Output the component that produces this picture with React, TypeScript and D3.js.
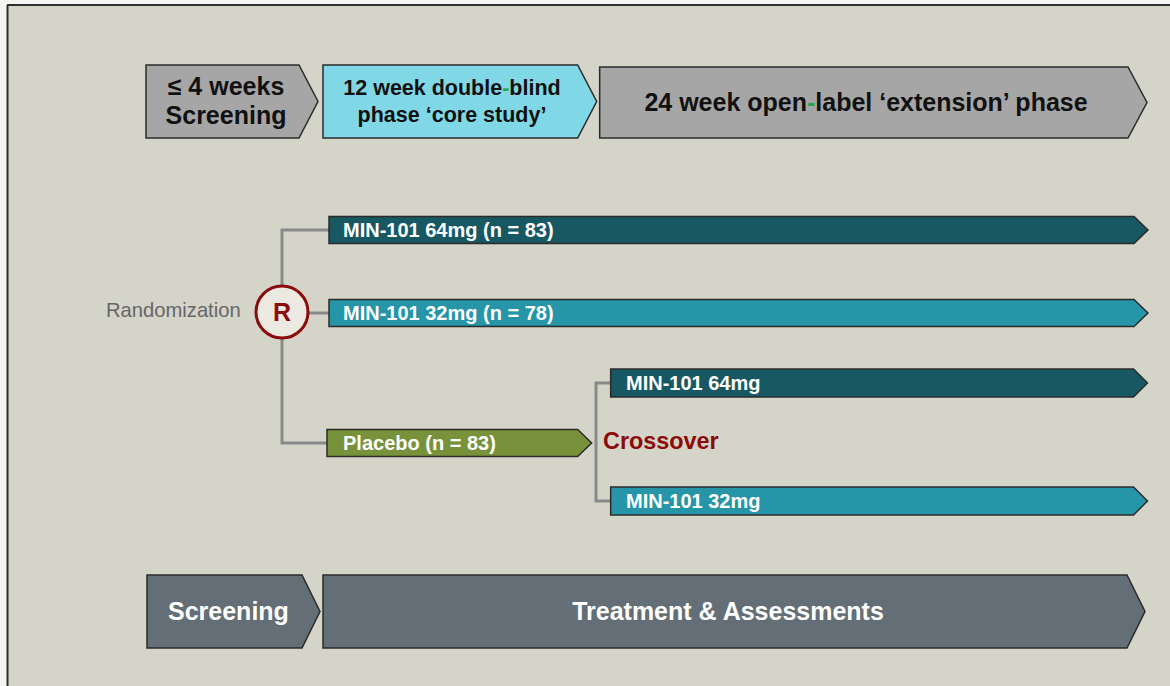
import React from "react";
import * as d3 from "d3";

// ---------- data ----------
const topPhaseLabels: string[][] = [
  ["≤ 4 weeks", "Screening"],
  ["12 week double-blind", "phase ‘core study’"],
  ["24 week open-label ‘extension’ phase"],
];
const topPhaseWeeks: [number, number][] = [
  [-4, 0],
  [0, 12],
  [12, 36],
];
const armLabels = ["MIN-101 64mg (n = 83)", "MIN-101 32mg (n = 78)", "Placebo (n = 83)"];
const armWeeks: [number, number][] = [
  [0, 36],
  [0, 36],
  [0, 12],
];
const crossoverLabels = ["MIN-101 64mg", "MIN-101 32mg"];
const crossoverWeeks: [number, number][] = [
  [12, 36],
  [12, 36],
];
const bottomLabels = ["Screening", "Treatment & Assessments"];
const bottomWeeks: [number, number][] = [
  [-4, 0],
  [0, 36],
];

// ---------- styles ----------
const FONT = "'Liberation Sans', Arial, Helvetica, sans-serif";
const BG = "#d5d4c8";
const topFills = ["#a6a6a6", "#80d7e5", "#a6a6a6"];
const armFills = ["#175862", "#2595a7", "#77923b"];
const crossFills = ["#175862", "#2595a7"];
const bottomFill = "#636e76";
const EDGE = "#2b2b2b";
const CONNECT = "#8a8a8a";
const DARKRED = "#8b0b0b";
const HYPHEN = "#22a84a";

const x = d3.scaleLinear().domain([-4, 0, 36]).range([146, 323, 1147]);

function chevron(x0: number, x1: number, y0: number, y1: number, tip: number) {
  const p = d3.path();
  const ym = (y0 + y1) / 2;
  p.moveTo(x0, y0);
  p.lineTo(x1 - tip, y0);
  p.lineTo(x1, ym);
  p.lineTo(x1 - tip, y1);
  p.lineTo(x0, y1);
  p.closePath();
  return p.toString();
}

function HyphenText({ text, ...rest }: any) {
  const i = text.indexOf("-");
  if (i < 0) return <text {...rest}>{text}</text>;
  return (
    <text {...rest}>
      <tspan>{text.slice(0, i)}</tspan>
      <tspan fill={HYPHEN}>-</tspan>
      <tspan>{text.slice(i + 1)}</tspan>
    </text>
  );
}

export default function App() {
  const topY0 = 65,
    topY1 = 138;
  const topPad = [
    [0, 5],
    [0, 1],
    [2, 0],
  ];
  const armCY = [230, 313, 443];
  const armH = 27;
  const crossCY = [383, 501];
  const crossH = 28;
  const botY0 = 575,
    botY1 = 648;

  const circle = { cx: 282, cy: 312, r: 26 };
  const bracketX = 596;

  return (
    <svg
      width={1170}
      height={686}
      style={{ position: "absolute", left: 0, top: 0, display: "block" }}
      fontFamily={FONT}
    >
      <rect x={0} y={0} width={1170} height={686} fill="#f4f4f2" />
      <rect x={8} y={6} width={1170} height={690} fill={BG} />
      <line x1={7} x2={1170} y1={5} y2={5} stroke="#2e2e2e" strokeWidth={2} />
      <line x1={7.5} x2={7.5} y1={5} y2={686} stroke="#2e2e2e" strokeWidth={2} />

      {/* top phase row */}
      {topPhaseWeeks.map((w, i) => {
        const x0 = x(w[0]) + topPad[i][0];
        const x1 = x(w[1]) - topPad[i][1];
        const lines = topPhaseLabels[i];
        const cx = i === 0 ? 226 : i === 1 ? 452 : 866;
        const fs = i === 1 ? 21.5 : 25;
        return (
          <g key={"top" + i}>
            <path d={chevron(x0, x1, i === 2 ? 67 : topY0, topY1, 19)} fill={topFills[i]} stroke={EDGE} strokeWidth={1.5} />
            {lines.map((t, j) => {
              const y = lines.length === 1 ? (topY0 + topY1) / 2 + 9 : 95 + j * (i === 0 ? 29 : 27);
              return (
                <HyphenText
                  key={j}
                  text={t}
                  x={cx}
                  y={y}
                  textAnchor="middle"
                  fontSize={fs}
                  fontWeight="bold"
                  fill="#111"
                />
              );
            })}
          </g>
        );
      })}

      {/* randomization connectors */}
      <path
        d={`M${circle.cx},${circle.cy - circle.r} V${armCY[0]} H${x(armWeeks[0][0]) + 6}`}
        fill="none"
        stroke={CONNECT}
        strokeWidth={3}
      />
      <path
        d={`M${circle.cx + circle.r},${armCY[1]} H${x(armWeeks[1][0]) + 6}`}
        fill="none"
        stroke={CONNECT}
        strokeWidth={3}
      />
      <path
        d={`M${circle.cx},${circle.cy + circle.r} V${armCY[2]} H${x(armWeeks[2][0]) + 5}`}
        fill="none"
        stroke={CONNECT}
        strokeWidth={3}
      />

      {/* arms */}
      {armWeeks.map((w, i) => {
        const x0 = x(w[0]) + (i === 2 ? 4 : 6);
        const x1 = i === 2 ? x(w[1]) - 6 : x(w[1]) + 1;
        return (
          <g key={"arm" + i}>
            <path
              d={chevron(x0, x1, armCY[i] - armH / 2, armCY[i] + armH / 2, 14)}
              fill={armFills[i]}
              stroke={EDGE}
              strokeWidth={1.5}
            />
            <text x={343} y={armCY[i] + 7} fontSize={20} fontWeight="bold" fill="#fff">
              {armLabels[i]}
            </text>
          </g>
        );
      })}

      {/* randomization circle */}
      <text x={106} y={317} fontSize={20.2} fill="#666">
        Randomization
      </text>
      <circle cx={circle.cx} cy={circle.cy} r={circle.r} fill="#ebe9e2" stroke={DARKRED} strokeWidth={3} />
      <text
        x={circle.cx}
        y={circle.cy + 9}
        textAnchor="middle"
        fontSize={25}
        fontWeight="bold"
        fill={DARKRED}
      >
        R
      </text>

      {/* crossover bracket */}
      <path
        d={`M${x(crossoverWeeks[0][0]) + 13},${crossCY[0]} H${bracketX} V${crossCY[1]} H${x(crossoverWeeks[1][0]) + 13}`}
        fill="none"
        stroke={CONNECT}
        strokeWidth={3}
      />
      <text x={603} y={449} fontSize={23.4} fontWeight="bold" fill={DARKRED}>
        Crossover
      </text>
      {crossoverWeeks.map((w, i) => (
        <g key={"cx" + i}>
          <path
            d={chevron(x(w[0]) + 13, x(w[1]) + 0.5, crossCY[i] - crossH / 2, crossCY[i] + crossH / 2, 14)}
            fill={crossFills[i]}
            stroke={EDGE}
            strokeWidth={1.5}
          />
          <text x={626} y={crossCY[i] + 7} fontSize={20} fontWeight="bold" fill="#fff">
            {crossoverLabels[i]}
          </text>
        </g>
      ))}

      {/* bottom row */}
      {bottomWeeks.map((w, i) => {
        const x0 = x(w[0]) + (i === 0 ? 1 : 0);
        const x1 = x(w[1]) - (i === 0 ? 3 : 2);
        return (
          <g key={"bot" + i}>
            <path d={chevron(x0, x1, botY0, botY1, 18)} fill={bottomFill} stroke={EDGE} strokeWidth={1.5} />
            <text
              x={i === 0 ? 168 : 728}
              y={620}
              textAnchor={i === 0 ? "start" : "middle"}
              fontSize={25}
              fontWeight="bold"
              fill="#fff"
            >
              {bottomLabels[i]}
            </text>
          </g>
        );
      })}
    </svg>
  );
}
